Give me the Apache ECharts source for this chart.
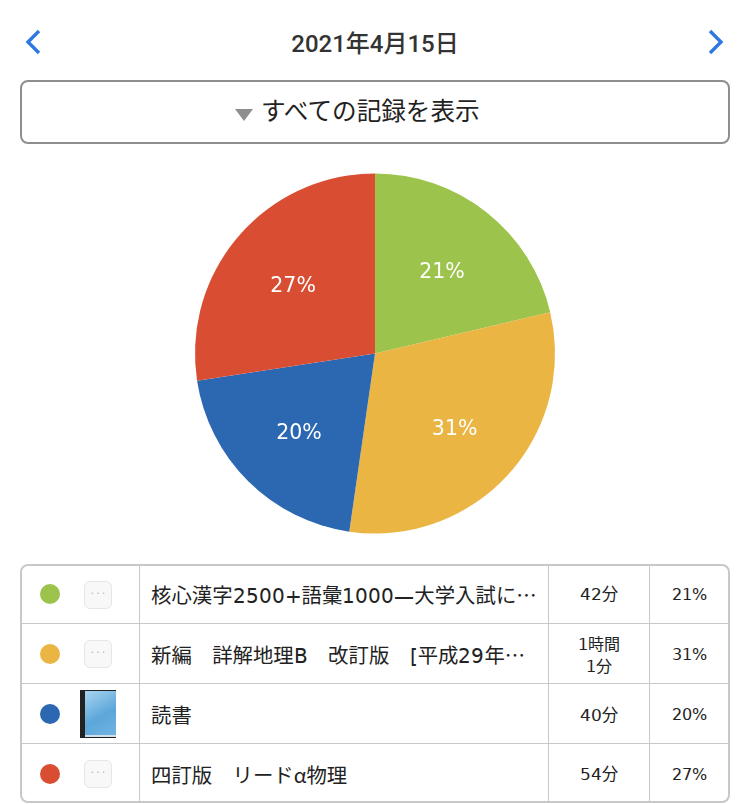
<!DOCTYPE html>
<html lang="ja">
<head>
<meta charset="utf-8">
<title>2021年4月15日</title>
<script src="https://cdn.jsdelivr.net/npm/echarts@6/dist/echarts.min.js"></script>
<style>
  @font-face { font-family: "LatinPart"; src: local("DejaVu Sans"); unicode-range: U+20-7E, U+2014; }
  html, body { margin: 0; padding: 0; background: #fff; }
  body { width: 750px; height: 804px; position: relative; overflow: hidden;
    font-family: "LatinPart", "Noto Sans CJK JP", sans-serif; color: #222; }
  .date { position: absolute; left: 0; width: 750px; top: 26px; line-height: 36px; text-align: center;
    font-family: Roboto, "Noto Sans CJK JP", sans-serif; font-size: 24px; font-weight: 500; color: #333; }
  .arrow { position: absolute; top: 28px; }
  .filter { position: absolute; left: 20px; top: 80px; width: 706px; height: 60px;
    border: 2px solid #8e8e8e; border-radius: 8px; }
  .filter span { position: absolute; left: 239px; top: 12px; line-height: 36px; font-size: 24.6px; white-space: nowrap; }
  .filter i { position: absolute; left: 213px; top: 27px; width: 0; height: 0;
    border-left: 9px solid transparent; border-right: 9px solid transparent; border-top: 12px solid #8e8e8e; }
  #main { position: absolute; left: 0; top: 150px; width: 750px; height: 400px; }
  table { position: absolute; left: 20px; top: 564px; width: 710px; height: 239px; box-sizing: border-box;
    border: 2px solid #c8c8c8; border-radius: 8px; border-spacing: 0; table-layout: fixed; background: #fff; }
  td { padding: 0; height: 59px; border-top: 1px solid #c8c8c8; border-left: 1px solid #c8c8c8; text-align: center; }
  tr:first-child td { border-top: 0; height: 57px; }
  tr:last-child td { height: 57px; }
  td:first-child { border-left: 0; position: relative; }
  td.name { text-align: left; padding-left: 11px; font-size: 20.4px; white-space: nowrap; overflow: hidden; }
  td.time, td.pct { position: relative; }
  td div.txt { position: relative; }
  td.time { font-size: 16.5px; }
  td.time.two { font-size: 16px; line-height: 22px; }
  td.pct { font-size: 16px; }
  .dot { position: absolute; left: 18px; top: 50%; margin-top: -10px; width: 20px; height: 20px; border-radius: 50%; }
  .none { position: absolute; left: 62px; top: 50%; margin-top: -14px; width: 26px; height: 26px; border: 1px solid #e6e6e6;
    border-radius: 6px; background: #f8f8f8; color: #b5b5b5; font-size: 10px; line-height: 24px; }
  tr:first-child .dot { margin-top: -11px; }
  tr:last-child .dot { margin-top: -9px; }
  tr:last-child .none { margin-top: -13px; }
  .book { position: absolute; left: 58px; top: 50%; margin-top: -24px; width: 36px; height: 48px; box-sizing: border-box;
    border-left: 5px solid #222; border-top: 1px solid #222; border-bottom: 1px solid #222;
    background: linear-gradient(to top, #cfe0ea 0 2px, transparent 2px), linear-gradient(150deg, #a9d4ef, #5ba6da 55%, #74b5e2); }
</style>
</head>
<body>
<svg class="arrow" style="left:22px" width="24" height="28"><polyline points="17,3 6,14 17,25" fill="none" stroke="#2f78e4" stroke-width="3.4"/></svg>
<div class="date">2021年4月15日</div>
<svg class="arrow" style="left:704px" width="24" height="28"><polyline points="6,3 17,14 6,25" fill="none" stroke="#2f78e4" stroke-width="3.4"/></svg>
<div class="filter"><i></i><span>すべての記録を表示</span></div>
<div id="main"></div>
<table id="list">
  <colgroup><col style="width:117px"><col style="width:409px"><col style="width:101px"><col></colgroup>
  <tbody></tbody>
</table>
<script>
var names = ['核心漢字2500+語彙1000—大学入試に…', '新編　詳解地理B　改訂版　[平成29年…', '読書', '四訂版　リードα物理'];
var minutes = [42, 61, 40, 54];
var timeLabels = ['42分', '1時間<br>1分', '40分', '54分'];
var percents = ['21%', '31%', '20%', '27%'];
var colors = ['#9cc34b', '#eab543', '#2b68b1', '#d94e33'];
var hasCover = [false, false, true, false];
// small vertical nudges per row so the cell text sits where it does in the screenshot
var nameShift = [-1, 0, 0, 1];
var timeShift = [-2, 2, 0, 0];
var pctShift = [0, 1, 1, 2];

var pieData = names.map(function (n, i) {
  return { name: n, value: minutes[i] };
});

var myChart = echarts.init(document.getElementById('main'));
var option = {
  animation: false,
  color: colors,
  series: [{
    type: 'pie',
    center: [375, 203.5],
    radius: [0, 180],
    startAngle: 90,
    silent: true,
    label: { show: false },
    labelLine: { show: false },
    data: pieData
  }, {
    // transparent ring, only here to put the labels further out than the default
    type: 'pie',
    center: [375, 203.5],
    radius: [30, 180],
    startAngle: 90,
    silent: true,
    itemStyle: { color: 'transparent' },
    label: {
      show: true,
      position: 'inner',
      color: '#fff',
      fontSize: 20.5,
      fontFamily: '"DejaVu Sans", sans-serif',
      formatter: function (p) { return percents[p.dataIndex]; }
    },
    labelLayout: { dy: 3.5 },
    labelLine: { show: false },
    data: pieData
  }]
};
myChart.setOption(option);

function shifted(html, dy) {
  return '<div class="txt" style="top:' + dy + 'px">' + html + '</div>';
}

var tbody = document.querySelector('#list tbody');
names.forEach(function (n, i) {
  var tr = document.createElement('tr');
  tr.innerHTML =
    '<td><div class="dot" style="background:' + colors[i] + '"></div>' +
    (hasCover[i] ? '<div class="book"></div>' : '<div class="none">···</div>') + '</td>' +
    '<td class="name">' + shifted(n, nameShift[i]) + '</td>' +
    '<td class="time' + (timeLabels[i].indexOf('<br>') > 0 ? ' two' : '') + '">' + shifted(timeLabels[i], timeShift[i]) + '</td>' +
    '<td class="pct">' + shifted(percents[i], pctShift[i]) + '</td>';
  tbody.appendChild(tr);
});
</script>
</body>
</html>
